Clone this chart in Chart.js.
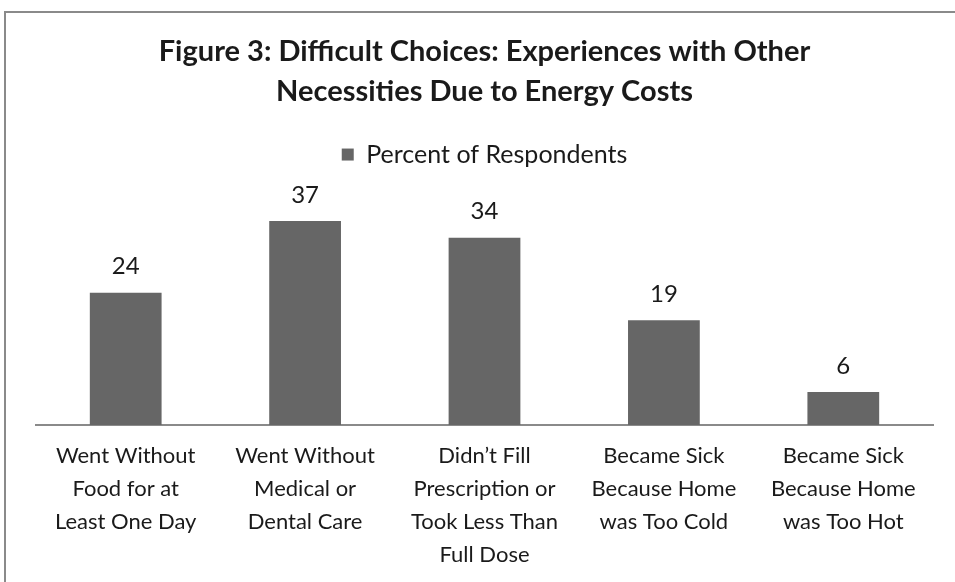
<!DOCTYPE html>
<html>
<head>
<meta charset="utf-8">
<script src="https://cdn.jsdelivr.net/npm/chart.js@4.4.0/dist/chart.umd.min.js"></script>
<style>
  html, body { margin: 0; padding: 0; background: #fff; }
  #wrap { position: relative; width: 955px; height: 582px; overflow: hidden; }
  #frame { position: absolute; left: 4px; top: 11px; width: 1000px; height: 700px;
           border-left: 2px solid #8a8a8a; border-top: 2px solid #8a8a8a; }
  canvas { position: absolute; left: 0; top: 0; }
</style>
</head>
<body>
<div id="wrap">
  <div id="frame"></div>
  <canvas id="plot" width="955" height="585"></canvas>
</div>
<script>
var titleLines = ['Figure 3: Difficult Choices: Experiences with Other', 'Necessities Due to Energy Costs'];
var seriesName = 'Percent of Respondents';
var categories = [
    ['Went Without', 'Food for at', 'Least One Day'],
    ['Went Without', 'Medical or', 'Dental Care'],
    ['Didn\u2019t Fill', 'Prescription or', 'Took Less Than', 'Full Dose'],
    ['Became Sick', 'Because Home', 'was Too Cold'],
    ['Became Sick', 'Because Home', 'was Too Hot']
];
var percentValues = [24, 37, 34, 19, 6];

var fontName = 'Lato, "Open Sans", sans-serif';

// values written above each bar
var barLabels = {
    id: 'barLabels',
    afterDatasetsDraw: function(chart) {
        var c = chart.ctx;
        var meta = chart.getDatasetMeta(0);
        c.save();
        c.font = '24px ' + fontName;
        c.fillStyle = '#1a1a1a';
        c.textAlign = 'center';
        c.textBaseline = 'bottom';
        meta.data.forEach(function(bar, i) {
            c.fillText(String(chart.data.datasets[0].data[i]), bar.x, bar.y - 14);
        });
        c.restore();
    }
};

var ctx = document.getElementById('plot').getContext('2d');
var myChart = new Chart(ctx, {
    type: 'bar',
    data: {
        labels: categories,
        datasets: [{
            label: seriesName,
            data: percentValues,
            backgroundColor: '#666666',
            borderWidth: 0,
            barPercentage: 0.4,
            categoryPercentage: 1.0
        }]
    },
    options: {
        responsive: false,
        animation: false,
        layout: {
            padding: { left: 36, right: 22, top: 32, bottom: 0 }
        },
        plugins: {
            title: {
                display: true,
                text: titleLines,
                color: '#1a1a1a',
                font: { family: fontName, size: 29, weight: 'bold', lineHeight: 1.38 },
                padding: { top: 0, bottom: 20 }
            },
            legend: {
                display: true,
                labels: {
                    color: '#1a1a1a',
                    font: { family: fontName, size: 25 },
                    boxWidth: 12,
                    boxHeight: 12,
                    padding: 10
                }
            },
            tooltip: { enabled: false }
        },
        scales: {
            x: {
                grid: { display: false, drawTicks: false },
                border: { display: true, color: '#8a8a8a', width: 2 },
                ticks: {
                    color: '#1a1a1a',
                    font: { family: fontName, size: 22, lineHeight: 1.5 },
                    maxRotation: 0,
                    autoSkip: false,
                    padding: 14
                }
            },
            y: {
                display: false,
                min: 0,
                max: 45
            }
        }
    },
    plugins: [barLabels]
});
</script>
</body>
</html>
